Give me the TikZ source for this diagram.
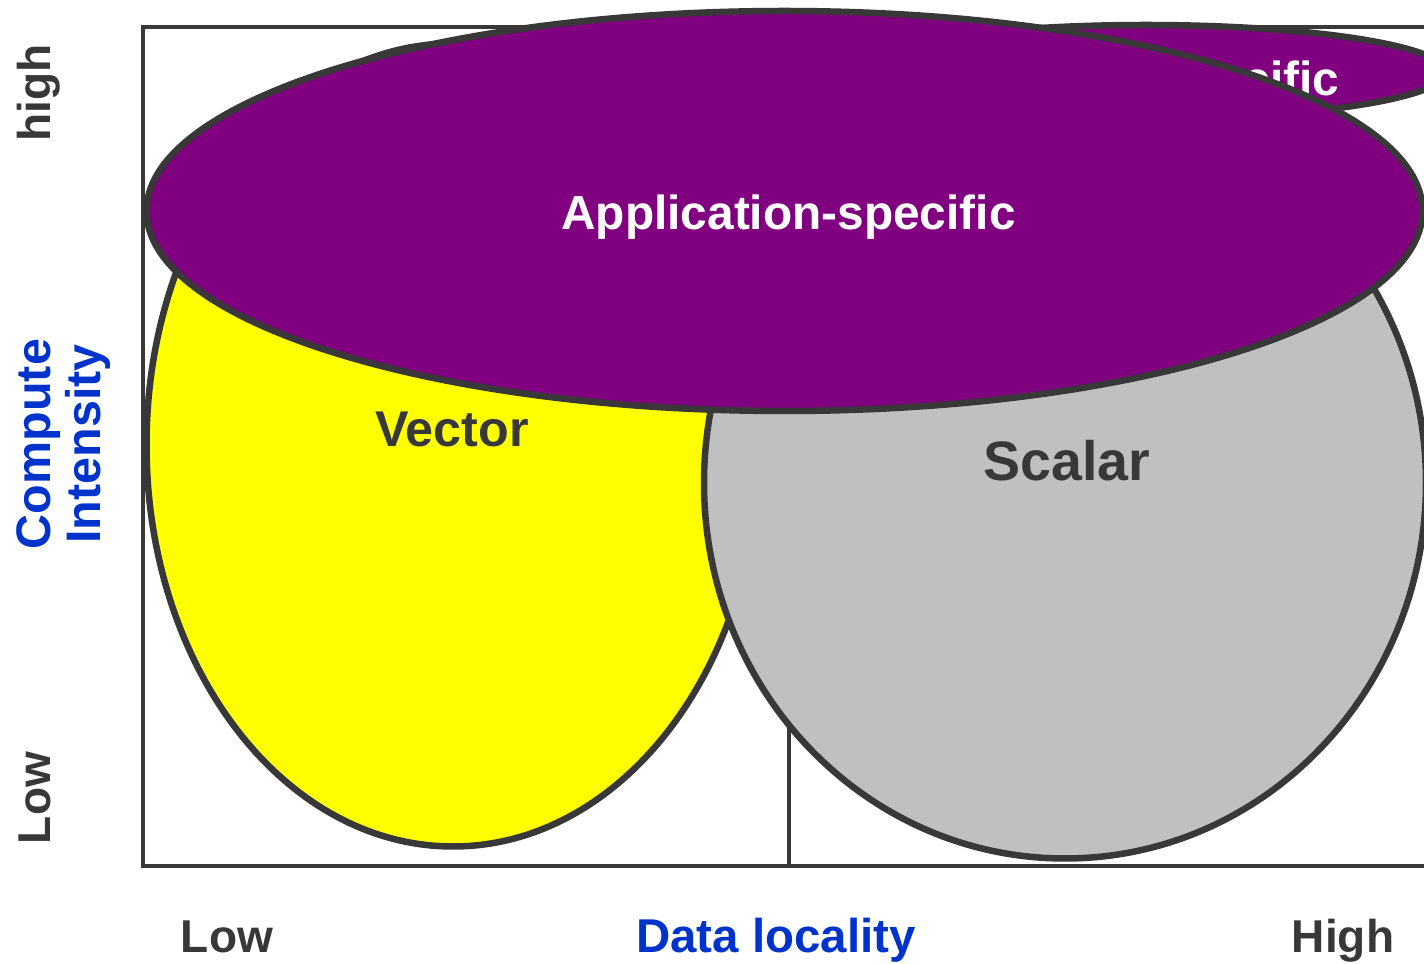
\documentclass[tikz,border=0pt]{standalone}
\usepackage{fontspec}
\setmainfont{Liberation Sans}
\usepackage{tikz}
\usetikzlibrary{shapes.geometric}
\definecolor{edgegray}{HTML}{383838}
\definecolor{axisblue}{HTML}{0033CC}
\definecolor{appviolet}{HTML}{800080}
\definecolor{vectoryellow}{HTML}{FFFF00}
\definecolor{scalargray}{HTML}{C0C0C0}

\begin{document}
\begin{tikzpicture}[x=0.1mm, y=-0.1mm,
      blob/.style={ellipse, draw=edgegray, line width=1.85pt, inner sep=0pt},
      axisline/.style={draw=edgegray, line width=1.1pt},
      lbl/.style={font=\bfseries\fontsize{#1}{#1}\selectfont, text=edgegray, anchor=base, inner sep=0pt},
      lbl/.default=13.1pt]
      \useasboundingbox (0, 0) rectangle (1424, 964);
      \clip (0, 0) rectangle (1424, 964);
      \draw [axisline] (1440, 27) -| (143, 866) -- (1440, 866)
                       (789, 27) -- (789, 866);
      \node (vector) [blob, fill=vectoryellow, minimum width=61.3mm, minimum height=80.3mm] at (453, 445) {};
      \node (scalar) [blob, fill=scalargray, minimum width=72.2mm, minimum height=75.1mm] at (1065, 483) {};
      \node (appback) [blob, fill=appviolet, minimum width=60mm, minimum height=9.4mm] at (1146, 72) {};
      \node (appbacktext) [lbl=13.6pt, text=white] at (1112, 96) {Application-specific};
      \node (app) [blob, fill=appviolet, minimum width=127.6mm, minimum height=40mm] at (784.5, 211) {};
      \node (apptext) [lbl=13.6pt, text=white] at (788.5, 230) {Application-specific};
      \node (vectortext) [lbl=14.3pt] at (452, 447) {Vector};
      \node (scalartext) [lbl=15.8pt] at (1067, 481) {Scalar};
      \node (xlow) [lbl] at (227, 953) {Low};
      \node (xname) [lbl=13.5pt, text=axisblue] at (776, 953) {Data locality};
      \node (xhigh) [lbl] at (1343, 953) {High};
      \node (yhigh) [lbl, rotate=90] at (50, 93) {high};
      \node (ylow) [lbl, rotate=90] at (50, 798) {Low};
      \node (yname) [lbl=13.8pt, text=axisblue, anchor=center, align=center, rotate=90,
                     font=\bfseries\fontsize{13.8pt}{14.2pt}\selectfont] at (64, 444) {Compute\\Intensity};
\end{tikzpicture}
\end{document}
